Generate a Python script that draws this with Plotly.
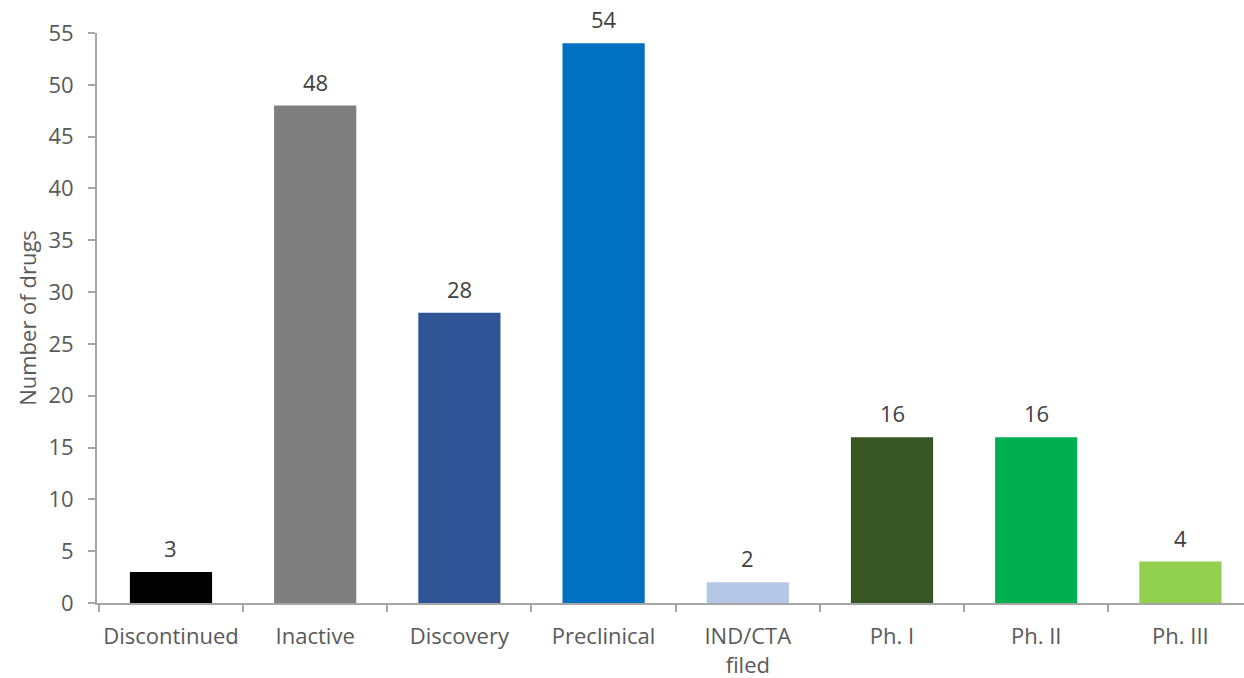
import plotly.graph_objects as go

categories = ["Discontinued", "Inactive", "Discovery", "Preclinical", "IND/CTA<br>filed", "Ph. I", "Ph. II", "Ph. III"]
values = [3, 48, 28, 54, 2, 16, 16, 4]
colors = ["#000000", "#7f7f7f", "#2f5597", "#0070c0", "#b4c7e7", "#375623", "#00b050", "#92d050"]

font_family = "Open Sans, Noto Sans, sans-serif"
grey = "#595959"
fs = 22

fig = go.Figure()
fig.add_trace(go.Bar(x=categories, y=values, marker=dict(color=colors, line=dict(width=0)),
                     width=0.57, hoverinfo="skip"))

for c, v in zip(categories, values):
    fig.add_annotation(x=c, y=v, text=str(v), showarrow=False, yanchor="bottom", yshift=7,
                       font=dict(size=fs, color="#404040", family=font_family))

fig.update_layout(
    width=1244, height=678,
    margin=dict(l=97, r=0, t=33, b=75, autoexpand=False),
    plot_bgcolor="white", paper_bgcolor="white",
    showlegend=False,
    font=dict(family=font_family, size=fs, color=grey),
    xaxis=dict(
        range=[-0.513, 7.441],
        showline=True, linecolor="#a6a6a6", linewidth=2,
        ticks="outside", tickson="boundaries", ticklen=7, tickcolor="#a6a6a6", tickwidth=2,
        tickfont=dict(size=fs, color=grey, family=font_family),
        tickangle=0, automargin=False,
        ticklabelstandoff=13,
        showgrid=False,
    ),
    yaxis=dict(
        range=[0, 55], tick0=0, dtick=5,
        showline=True, linecolor="#a6a6a6", linewidth=2,
        ticks="outside", ticklen=7, tickcolor="#a6a6a6", tickwidth=2,
        tickfont=dict(size=fs, color=grey, family=font_family),
        ticklabelstandoff=10, automargin=False,
        showgrid=False, zeroline=False,
        title=dict(text="Number of drugs", font=dict(size=fs, color=grey, family=font_family), standoff=6),
    ),
)

fig.write_html("out.html")
